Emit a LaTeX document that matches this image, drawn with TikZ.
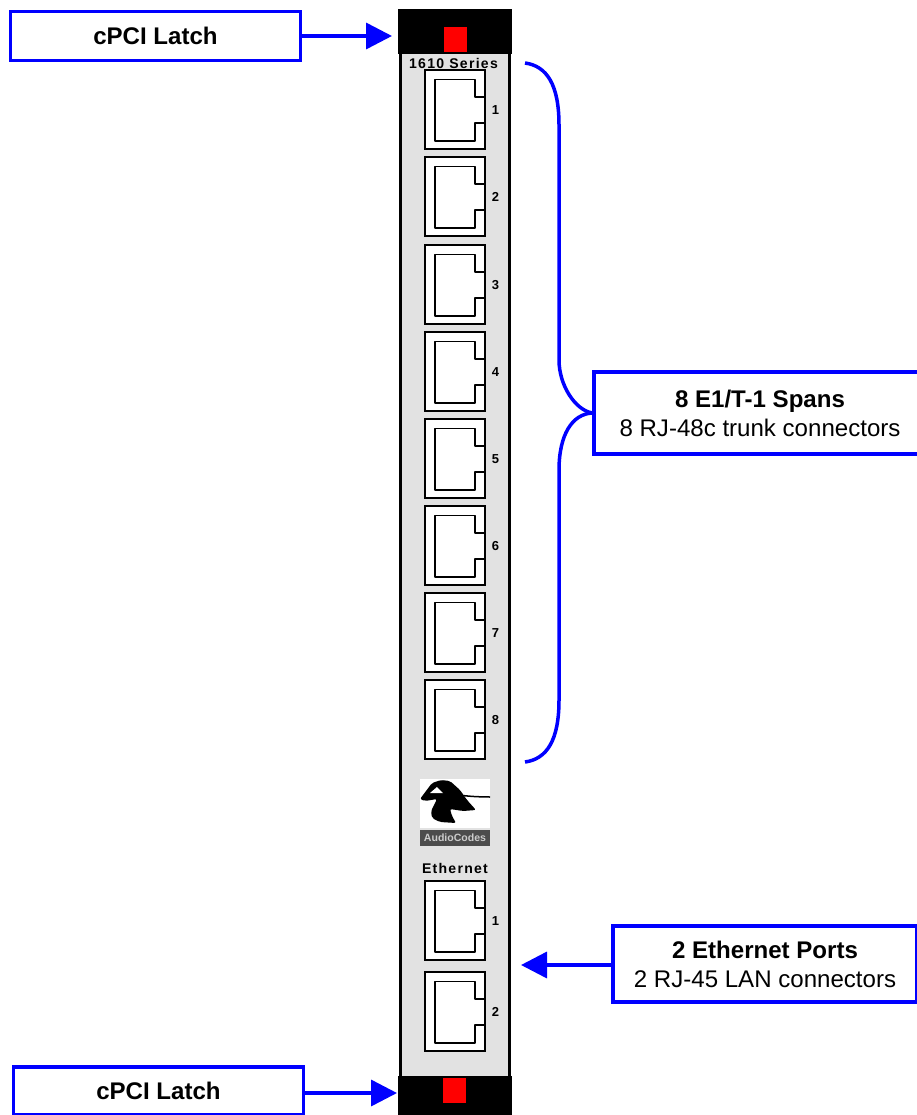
\documentclass[tikz,border=0pt]{standalone}
\usepackage{fontspec}
\setmainfont{Liberation Sans}
\newfontfamily\panelfont[LetterSpace=9]{Liberation Sans}
\usetikzlibrary{arrows.meta,positioning,calc}
\definecolor{cv1}{RGB}{0,0,255}
\definecolor{cv2}{RGB}{226,226,226}
\definecolor{cv3}{RGB}{255,0,0}

\begin{document}
\begin{tikzpicture}[
  x=0.02cm,y=-0.02cm,
  callout/.style={draw=cv1,line width=0.07cm,fill=white,inner sep=0,align=center,font=\fontsize{13.7}{16.5}\selectfont},
  lead/.style={draw=cv1,line width=0.07cm},
  pointer/.style={lead,-{Triangle[length=0.52cm,width=0.52cm]}},
  jack/.style={draw,line width=0.024cm,fill=white,minimum width=1.2cm,minimum height=1.58cm,inner sep=0},
  latchblock/.style={fill=black,minimum width=2.28cm,inner sep=0},
  latchpin/.style={fill=cv3,minimum width=0.46cm,minimum height=0.5cm,inner sep=0},
  panellabel/.style={font=\panelfont\fontsize{8}{9}\selectfont\bfseries,inner sep=0},
  portnum/.style={font=\fontsize{7.4}{8}\selectfont\bfseries,inner sep=0}
]
\useasboundingbox (0,0) rectangle (916,1115);
% faceplate
\node[draw=black,fill=cv2,line width=0.06cm,minimum width=2.2cm,minimum height=20.8cm,inner sep=0] (plate) at (455,560) {};
\node[latchblock,minimum height=0.9cm] (topblock) at (455,31.5) {};
\node[latchblock,minimum height=0.78cm] (botblock) at (455,1095.5) {};
\node[latchpin] (toppin) at (455.5,39.5) {};
\node[latchpin] (botpin) at (454.5,1090.5) {};
\node[panellabel] (series) at (453.5,63) {1610 Series};
\node[panellabel] (ethlabel) at (455,868.5) {Ethernet};
% ports
\foreach \y/\n/\t in {70/1/s1,157/2/s2,245/3/s3,332/4/s4,419/5/s5,506/6/s6,593/7/s7,680/8/s8,881/1/e1,972/2/e2}{
  \node[jack] (\t) at (455,\y+39.5) {};
  \draw[line width=0.036cm,line join=round] (485,\y+27) -- (475,\y+27) -- (475,\y+9.5) -- (435,\y+9.5) -- (435,\y+71) -- (475,\y+71) -- (475,\y+53) -- (485,\y+53);
  \node[portnum] at (495.5,\y+40) {\n};
}
% logo
\node[fill=white,minimum width=1.4cm,minimum height=0.98cm,inner sep=0] (logo) at (455,803.5) {};
\fill[black,rounded corners=0.04cm] (420,799) -- (432,783) -- (441,780) -- (450,781) -- (460,790) -- (467,800) -- (476,810) -- (463,811) -- (450,809) -- (452,816) -- (456,823) -- (440,822) -- (432,818) -- (431,811) -- (437,799) -- (425,801) -- cycle;
\fill[white] (430,793) -- (437,787) -- (443,793) -- cycle;
\draw[black,line width=0.03cm] (458,795) to[bend right=3] (490,797);
\node[fill=black!70,minimum width=1.4cm,minimum height=0.32cm,inner sep=0,text=black!20,font=\fontsize{6}{6}\selectfont\bfseries] (logotext) at (455,838) {AudioCodes};
% callouts
\node[callout,minimum width=5.8cm,minimum height=0.98cm,font=\fontsize{13.7}{16.5}\selectfont\bfseries] (latchtop) at (155.5,36) {cPCI Latch};
\node[callout,minimum width=5.8cm,minimum height=0.96cm,font=\fontsize{13.7}{16.5}\selectfont\bfseries] (latchbot) at (158.5,1091) {cPCI Latch};
\node[callout,minimum width=6.64cm,minimum height=1.64cm] (spans) at (760,413) {\textbf{8 E1/T-1 Spans}\\8 RJ-48c trunk connectors};
\node[callout,minimum width=6.08cm,minimum height=1.52cm] (ethports) at (765,964) {\textbf{2 Ethernet Ports}\\2 RJ-45 LAN connectors};
% connectors
\coordinate (toptip) at (392,36);
\coordinate (bottip) at (397,1093);
\coordinate (ethtip) at (521,965);
\coordinate (bracetop) at (525,63);
\coordinate (bracebot) at (525,762);
\draw[pointer] (latchtop.east) -- (toptip);
\draw[pointer] (latchbot.east |- bottip) -- (bottip);
\draw[pointer] (ethports.west |- ethtip) -- (ethtip);
\draw[lead] (spans.west) .. controls (575,410) and (559,385) .. (559,360) -- (559,125) .. controls (559,85) and (547,66) .. (bracetop);
\draw[lead] (spans.west) .. controls (572,414) and (559,435) .. (559,470) -- (559,700) .. controls (559,740) and (547,759) .. (bracebot);
\end{tikzpicture}
\end{document}
